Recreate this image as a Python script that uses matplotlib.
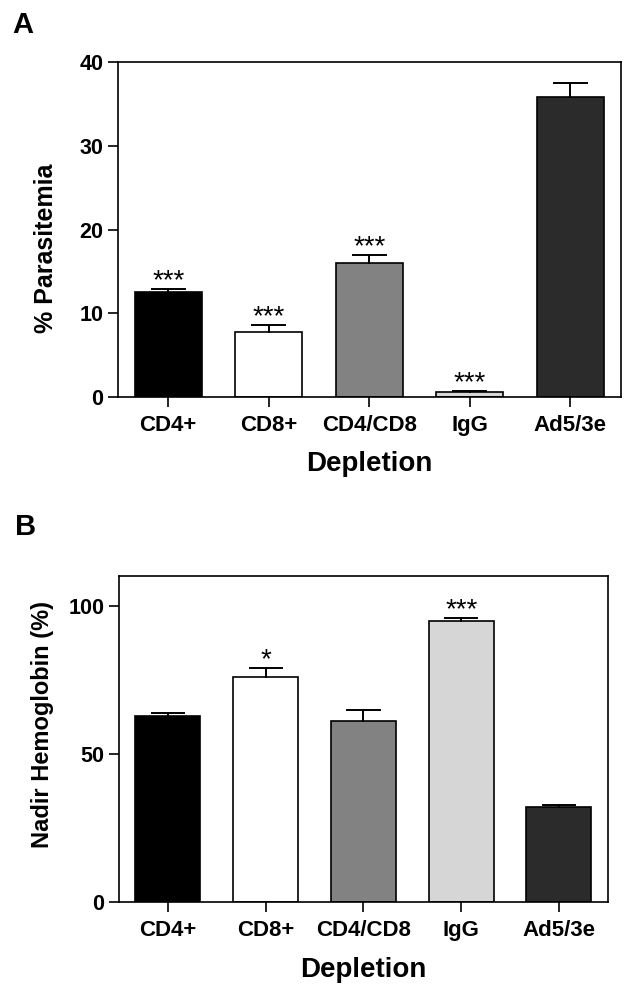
import matplotlib
matplotlib.use("Agg")
import matplotlib.pyplot as plt

plt.rcParams['font.family'] = ['Liberation Sans', 'DejaVu Sans']
plt.rcParams['font.weight'] = 'bold'

groups = ["CD4+", "CD8+", "CD4/CD8", "IgG", "Ad5/3e"]
colors = ["#000000", "#ffffff", "#828282", "#d6d6d6", "#2b2b2b"]

parasitemia = [12.5, 7.75, 16.0, 0.55, 35.8]
parasitemia_err = [0.45, 0.8, 1.0, 0.2, 1.65]
parasitemia_sig = ["***", "***", "***", "***", ""]

hemoglobin = [63.0, 76.0, 61.3, 94.8, 32.0]
hemoglobin_err = [0.7, 3.2, 3.5, 1.1, 0.8]
hemoglobin_sig = ["", "*", "", "***", ""]

fig = plt.figure(figsize=(6.34, 9.91), dpi=100)
axA = fig.add_axes([0.186, 0.5994, 0.793, 0.338])
axB = fig.add_axes([0.1877, 0.0895, 0.771, 0.329])


def draw(ax, vals, errs, sig, ylim, yticks, ylabel, ylabel_size, ylabel_xy):
    x = range(len(groups))
    ax.bar(x, vals, width=0.665, color=colors, edgecolor='black', linewidth=1.2, zorder=2)
    for i in x:
        ax.plot([i, i], [vals[i], vals[i] + errs[i]], color='black', lw=1.4, zorder=3)
        ax.plot([i - 0.165, i + 0.165], [vals[i] + errs[i]] * 2, color='black', lw=1.4, zorder=3)
        if sig[i]:
            ax.annotate(sig[i], (i, vals[i] + errs[i]), xytext=(0, 0.5), textcoords='offset points',
                        ha='center', va='baseline', fontsize=20, fontweight='normal')
    ax.set_xlim(-0.5, 4.5)
    ax.set_ylim(*ylim)
    ax.set_yticks(yticks)
    ax.set_xticks(list(x))
    ax.set_xticklabels(groups, fontsize=16, fontweight='bold')
    ax.tick_params(axis='y', labelsize=15.5, length=7, width=1.2, direction='out')
    ax.tick_params(axis='x', length=7, width=1.2, direction='out', pad=6)
    for lbl in ax.get_yticklabels():
        lbl.set_fontweight('bold')
    for s in ax.spines.values():
        s.set_linewidth(1.2)
    ax.set_ylabel(ylabel, fontsize=ylabel_size, fontweight='bold')
    ax.yaxis.set_label_coords(*ylabel_xy)
    ax.set_xlabel("Depletion", fontsize=20, fontweight='bold', labelpad=11)


draw(axA, parasitemia, parasitemia_err, parasitemia_sig, (0, 40), [0, 10, 20, 30, 40],
     "% Parasitemia", 18, (-0.12, 0.445))
draw(axB, hemoglobin, hemoglobin_err, hemoglobin_sig, (0, 110), [0, 50, 100],
     "Nadir Hemoglobin (%)", 17, (-0.133, 0.546))

fig.text(0.02, 1 - 33 / 991, "A", fontsize=21, fontweight='bold', va='baseline', ha='left')
fig.text(0.024, 1 - 535 / 991, "B", fontsize=21, fontweight='bold', va='baseline', ha='left')

fig.savefig("out.png", dpi=100)
